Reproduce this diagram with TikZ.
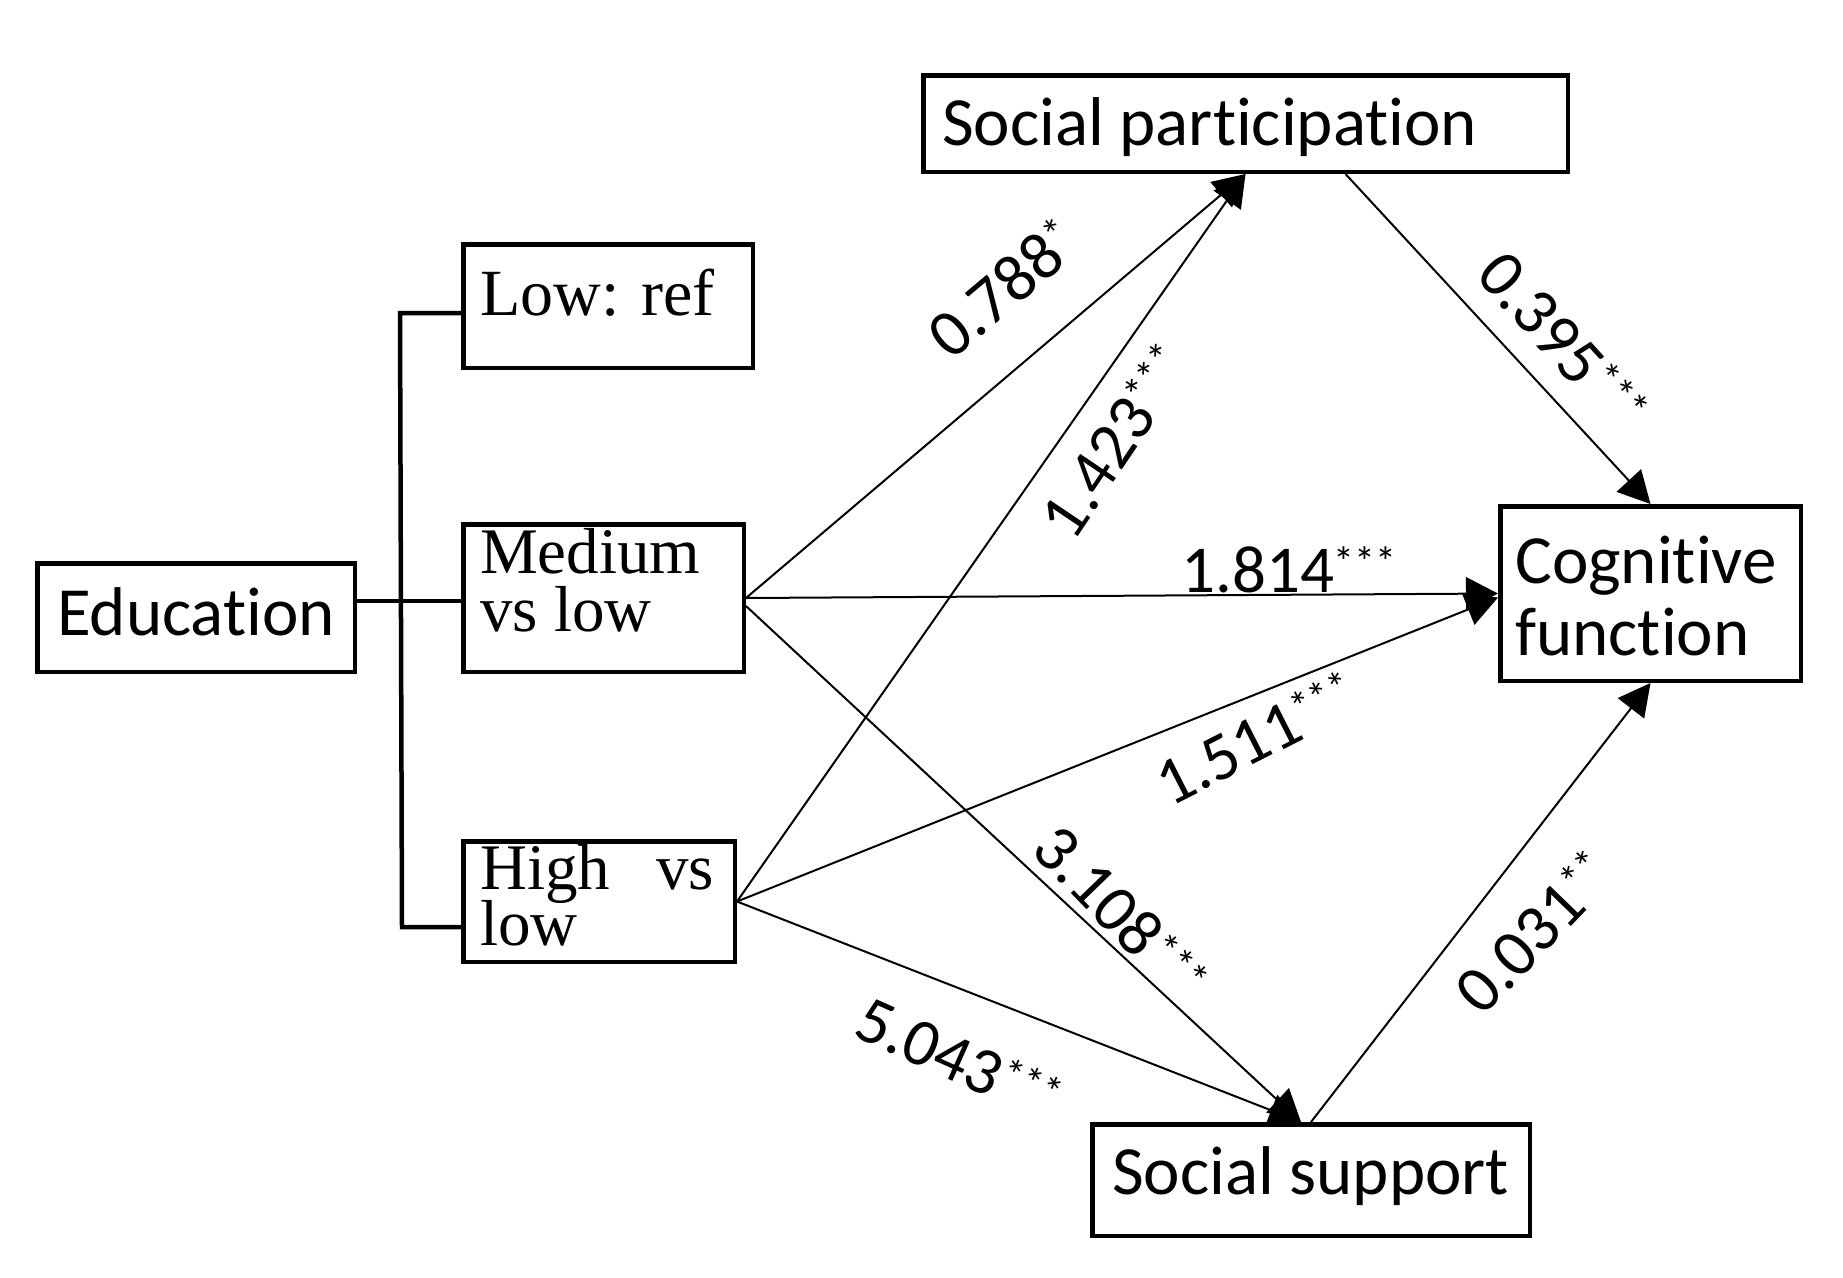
\documentclass[tikz,border=0pt]{standalone}
\usepackage{fontspec}
\setmainfont{Carlito}[Ligatures=NoCommon]
\newfontfamily\serf{Liberation Serif}
\usetikzlibrary{arrows.meta}
\newcommand\sstar[1]{\raisebox{16pt}{\fontsize{42}{42}\selectfont #1}}
\begin{document}
\begin{tikzpicture}[x=1pt,y=-1pt,
  box/.style={draw, line width=4.5pt, inner sep=0pt, rectangle},
  txt/.style={inner sep=0pt, anchor=base west, font=\fontsize{69}{69}\selectfont},
  stxt/.style={inner sep=0pt, anchor=base west, font=\serf\fontsize{65}{65}\selectfont},
  lab/.style={inner sep=0pt, font=\fontsize{67}{67}\selectfont},
  arr/.style={line width=2pt, -{Triangle[length=32pt,width=33pt]}},
  brk/.style={line width=4.5pt}]
\useasboundingbox (0,0) rectangle (1843,1277);
% boxes
\node[box, minimum width=317.5pt, minimum height=108.5pt] (edu) at (196,617.5) {};
\node[box, minimum width=289.5pt, minimum height=123.5pt] (low) at (608,306) {};
\node[box, minimum width=280.5pt, minimum height=147.5pt] (med) at (603.5,598) {};
\node[box, minimum width=271.5pt, minimum height=120.5pt] (high) at (599,901.5) {};
\node[box, minimum width=644.5pt, minimum height=96.5pt] (sp) at (1245.5,123.5) {};
\node[box, minimum width=300.5pt, minimum height=174.5pt] (cog) at (1650.5,593.5) {};
\node[box, minimum width=437.5pt, minimum height=111.5pt] (ss) at (1311,1180) {};
% texts
\node[txt] (edut) at (57,635) {Education};
\node[txt] (spt) at (942,145) {Social participation};
\node[txt] (cogt1) at (1515,583) {Cognitive};
\node[txt] (cogt2) at (1515,655) {function};
\node[txt] (sst) at (1112,1194) {Social support};
\node[stxt, font=\serf\fontsize{66}{66}\selectfont] (lowt) at (480,315) {Low: ref};
\node[stxt] (medt1) at (480,573) {Medium};
\node[stxt] (medt2) at (480,631) {vs low};
\node[stxt] (hight1) at (480,889) {\hbox to 234pt{High\hfill vs}};
\node[stxt] (hight2) at (480,945) {low};
% bracket
\coordinate (bt) at (400,313);
\coordinate (bb) at (402,927);
\coordinate (bm) at (400,601);
\draw[brk] (low.west |- bt) -- (bt) -- (bb) -- (high.west |- bb);
\draw[brk] (edu.east |- bm) -- (med.west |- bm);
% arrows
\draw[arr] (med.east) -- (sp.south);
\draw[arr] (high.east) -- (sp.south);
\draw[arr] (med.east) -- (cog.west);
\draw[arr] (high.east) -- ([yshift=-4pt]cog.west);
\draw[arr] ([yshift=-8pt]med.east) -- ([xshift=-10pt]ss.north);
\draw[arr] (high.east) -- ([xshift=-10pt]ss.north);
\draw[arr] ([xshift=100pt]sp.south) -- (cog.north);
\draw[arr] (ss.north) -- (cog.south);
% labels
\node[lab, anchor=base west] (l1) at (1181,592) {1.814\sstar{***}};
\node[lab, rotate=40] (l2) at (1003,288) {0.788\sstar{*}};
\node[lab, rotate=56] (l3) at (1115,441) {1.423\sstar{***}};
\node[lab, rotate=27] (l4) at (1256,738) {1.511\sstar{***}};
\node[lab, rotate=-46] (l5) at (1121,913) {3.108\sstar{***}};
\node[lab, rotate=-24] (l6) at (959,1059) {5.043\sstar{***}};
\node[lab, rotate=-48] (l7) at (1563,341) {0.395\sstar{***}};
\node[lab, rotate=46] (l8) at (1534,932) {0.031\sstar{**}};
\end{tikzpicture}
\end{document}
